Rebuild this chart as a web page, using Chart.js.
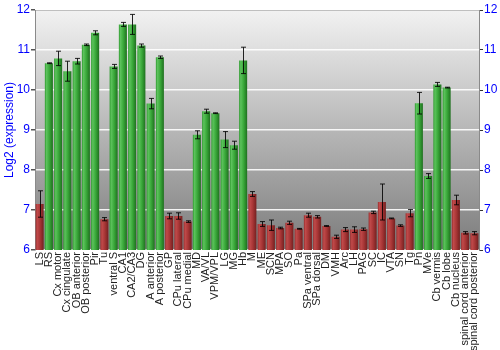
<!DOCTYPE html>
<html>
<head>
<meta charset="utf-8">
<script src="https://cdn.jsdelivr.net/npm/chart.js@4"></script>
<style>
  html, body { margin: 0; padding: 0; background: #fff; }
  #wrap { width: 500px; height: 350px; }
</style>
</head>
<body>
<div id="wrap"><canvas id="chart"></canvas></div>
<script>
// regions on the x axis
const regions = ['LS', 'RS', 'Cx motor', 'Cx cingulate', 'OB anterior', 'OB posterior', 'Pir', 'Tu',
  'ventral S', 'CA1', 'CA2/CA3', 'DG', 'A anterior', 'A posterior', 'GP', 'CPu lateral', 'CPu medial',
  'MD', 'VA/VL', 'VPM/VPL', 'LG', 'MG', 'Hb', 'M', 'ME', 'SCN', 'MPA', 'SO', 'Pa', 'SPa ventral',
  'SPa dorsal', 'DM', 'VMH', 'Arc', 'LH', 'PAG', 'SC', 'IC', 'VTA', 'SN', 'Tg', 'Pn', 'MVe',
  'Cb vermis', 'Cb lobe', 'Cb nucleus', 'spinal cord anterior', 'spinal cord posterior'];

// log2 expression
const expression = [7.15, 10.67, 10.79, 10.47, 10.72, 11.13, 11.43, 6.77,
  10.59, 11.64, 11.64, 11.11, 9.66, 10.82, 6.85, 6.85, 6.71,
  8.88, 9.47, 9.42, 8.76, 8.62, 10.74, 7.40, 6.65, 6.62, 6.55, 6.68, 6.53, 6.87,
  6.83, 6.60, 6.33, 6.51, 6.51, 6.52, 6.94, 7.20, 6.79, 6.61, 6.92, 9.67, 7.85,
  10.14, 10.06, 7.25, 6.43, 6.42];

// half-length of the error bars
const errors = [0.33, 0.01, 0.18, 0.25, 0.07, 0.02, 0.05, 0.04,
  0.05, 0.05, 0.25, 0.04, 0.13, 0.03, 0.07, 0.08, 0.02,
  0.10, 0.05, 0.01, 0.20, 0.10, 0.33, 0.06, 0.06, 0.13, 0.02, 0.04, 0.01, 0.05,
  0.03, 0.01, 0.04, 0.05, 0.07, 0.03, 0.03, 0.45, 0.01, 0.02, 0.09, 0.27, 0.06,
  0.05, 0.01, 0.12, 0.03, 0.04];

const yTicks = [6, 7, 8, 9, 10, 11, 12];
const highCutoff = 7.6; // green above this, red below

const FONT = '"Liberation Sans", Arial, sans-serif';

function barFill(context) {
  const chart = context.chart;
  const xs = chart.scales.x;
  if (!chart.chartArea || !xs) return '#a83838';
  const high = expression[context.dataIndex] > highCutoff;
  const cx = xs.getPixelForValue(context.dataIndex);
  const g = chart.ctx.createLinearGradient(cx - 4, 0, cx + 4, 0);
  if (high) {
    g.addColorStop(0, '#2f9a2f');
    g.addColorStop(0.2, '#5cc25c');
    g.addColorStop(0.55, '#3aa93a');
    g.addColorStop(1, '#1f701f');
  } else {
    g.addColorStop(0, '#9a2e2e');
    g.addColorStop(0.2, '#c04a4a');
    g.addColorStop(0.55, '#a83636');
    g.addColorStop(1, '#742020');
  }
  return g;
}

const plotBackground = {
  id: 'plotBackground',
  beforeDraw(chart) {
    const { ctx, chartArea: a } = chart;
    const g = ctx.createLinearGradient(0, a.top, 0, a.bottom);
    g.addColorStop(0, '#f2f2f2');
    g.addColorStop(1, '#7c7c7c');
    ctx.save();
    ctx.fillStyle = g;
    ctx.fillRect(a.left, a.top, a.right - a.left, a.bottom - a.top);
    ctx.strokeStyle = '#8a8a8a';
    ctx.lineWidth = 1;
    ctx.beginPath();
    ctx.moveTo(a.left, a.top + 0.5);
    ctx.lineTo(a.right, a.top + 0.5);
    ctx.stroke();
    ctx.restore();
  }
};

const errorBars = {
  id: 'errorBars',
  afterDatasetsDraw(chart) {
    const { ctx } = chart;
    const ys = chart.scales.y;
    const meta = chart.getDatasetMeta(0);
    ctx.save();
    ctx.strokeStyle = 'rgba(0,0,0,0.85)';
    ctx.lineWidth = 1;
    meta.data.forEach((bar, i) => {
      const x = Math.round(bar.x) + 0.5;
      const top = ys.getPixelForValue(expression[i] + errors[i]);
      const bot = ys.getPixelForValue(expression[i] - errors[i]);
      ctx.beginPath();
      ctx.moveTo(x, top);
      ctx.lineTo(x, bot);
      ctx.moveTo(x - 2.5, top);
      ctx.lineTo(x + 2.5, top);
      ctx.moveTo(x - 2.5, bot);
      ctx.lineTo(x + 2.5, bot);
      ctx.stroke();
    });
    ctx.restore();
  }
};

new Chart(document.getElementById('chart'), {
  type: 'bar',
  data: {
    labels: regions,
    datasets: [{
      data: expression,
      backgroundColor: barFill,
      borderWidth: 0,
      categoryPercentage: 1,
      barPercentage: 0.87,
      yAxisID: 'y'
    }]
  },
  options: {
    responsive: true,
    maintainAspectRatio: false,
    animation: false,
    layout: { padding: { top: 10, left: 0, right: 0, bottom: 0 } },
    plugins: {
      legend: { display: false },
      tooltip: { enabled: false }
    },
    scales: {
      x: {
        offset: true,
        grid: { display: false, drawTicks: false },
        border: { display: false },
        ticks: {
          autoSkip: false,
          maxRotation: 90,
          minRotation: 90,
          padding: 2,
          color: '#222',
          font: { family: FONT, size: 11 }
        },
        afterFit(scale) { scale.height = 100; }
      },
      y: {
        position: 'left',
        min: 6,
        max: 12,
        afterBuildTicks(scale) { scale.ticks = yTicks.map(v => ({ value: v })); },
        grid: { color: 'rgba(255,255,255,0.9)', tickColor: '#555', tickLength: 4, lineWidth: 1.5 },
        border: { display: true, color: '#8a8a8a' },
        ticks: {
          color: '#0000ff',
          padding: 1,
          font: { family: FONT, size: 12 }
        },
        title: {
          display: true,
          text: 'Log2 (expression)',
          color: '#0000ff',
          padding: { top: 2, bottom: 0 },
          font: { family: FONT, size: 12 }
        },
        afterFit(scale) { scale.width = 35; }
      },
      y2: {
        position: 'right',
        min: 6,
        max: 12,
        afterBuildTicks(scale) { scale.ticks = yTicks.map(v => ({ value: v })); },
        grid: { drawOnChartArea: false, tickColor: '#333', tickLength: 4 },
        border: { display: true, color: '#8a8a8a' },
        ticks: {
          color: '#0000ff',
          padding: 1,
          font: { family: FONT, size: 12 }
        },
        afterFit(scale) { scale.width = 21; }
      }
    }
  },
  plugins: [plotBackground, errorBars]
});
</script>
</body>
</html>
